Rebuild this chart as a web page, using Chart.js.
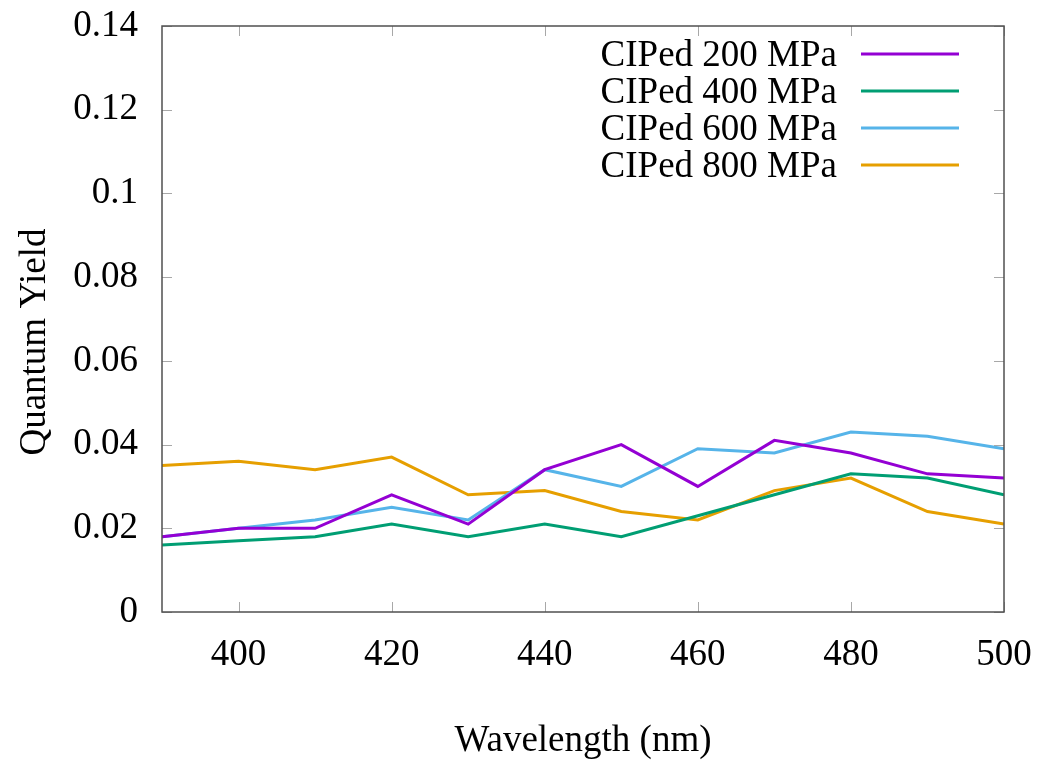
<!DOCTYPE html>
<html>
<head>
<meta charset="utf-8">
<title>Quantum Yield</title>
<script src="https://cdn.jsdelivr.net/npm/chart.js@4.4.0/dist/chart.umd.min.js"></script>
<style>
  html, body { margin: 0; background: #fff; }
  #wrap { width: 1038px; height: 763px; position: relative; }
</style>
</head>
<body>
<div id="wrap"><canvas id="qy"></canvas></div>
<script>
// wavelength grid (nm) and quantum yield per CIP pressure
const wavelengths = [390, 400, 410, 420, 430, 440, 450, 460, 470, 480, 490, 500];
const qy200 = [0.018, 0.020, 0.020, 0.028, 0.021, 0.034, 0.040, 0.030, 0.041, 0.038, 0.033, 0.032];
const qy400 = [0.016, 0.017, 0.018, 0.021, 0.018, 0.021, 0.018, 0.023, 0.028, 0.033, 0.032, 0.028];
const qy600 = [0.018, 0.020, 0.022, 0.025, 0.022, 0.034, 0.030, 0.039, 0.038, 0.043, 0.042, 0.039];
const qy800 = [0.035, 0.036, 0.034, 0.037, 0.028, 0.029, 0.024, 0.022, 0.029, 0.032, 0.024, 0.021];

const seriesLabels = ['CIPed 200 MPa', 'CIPed 400 MPa', 'CIPed 600 MPa', 'CIPed 800 MPa'];
const seriesColors = ['#9400d3', '#009e73', '#56b4e9', '#e69f00'];

const xTicks = [400, 420, 440, 460, 480, 500];
const yTicks = [0, 0.02, 0.04, 0.06, 0.08, 0.1, 0.12, 0.14];

const FONT = '"Liberation Serif", "Times New Roman", serif';
const FONT_SIZE = 37;

const toPoints = (ys) => ys.map((y, i) => ({ x: wavelengths[i], y }));

// frame with inward ticks on all four sides (gnuplot-like mirror ticks)
const framePlugin = {
  id: 'frame',
  afterDraw(chart) {
    const { ctx, chartArea: a, scales } = chart;
    const len = 10;
    ctx.save();
    ctx.strokeStyle = '#a8a8a8';
    ctx.lineWidth = 1;
    for (const v of xTicks) {
      const px = Math.round(scales.x.getPixelForValue(v)) + 0.5;
      ctx.beginPath();
      ctx.moveTo(px, a.bottom); ctx.lineTo(px, a.bottom - len);
      ctx.moveTo(px, a.top); ctx.lineTo(px, a.top + len);
      ctx.stroke();
    }
    for (const v of yTicks) {
      const py = Math.round(scales.y.getPixelForValue(v)) + 0.5;
      ctx.beginPath();
      ctx.moveTo(a.left, py); ctx.lineTo(a.left + len, py);
      ctx.moveTo(a.right, py); ctx.lineTo(a.right - len, py);
      ctx.stroke();
    }
    ctx.strokeStyle = '#505050';
    ctx.lineWidth = 1.5;
    ctx.strokeRect(a.left, a.top, a.right - a.left, a.bottom - a.top);
    ctx.restore();
  }
};

// axis titles
const titlePlugin = {
  id: 'axisTitles',
  afterDraw(chart) {
    const { ctx, chartArea: a } = chart;
    ctx.save();
    ctx.fillStyle = '#000';
    ctx.font = `${FONT_SIZE}px ${FONT}`;
    ctx.textAlign = 'center';
    ctx.textBaseline = 'middle';
    ctx.fillText('Wavelength (nm)', (a.left + a.right) / 2, 741);
    ctx.translate(35, 342);
    ctx.rotate(-Math.PI / 2);
    ctx.fillText('Quantum Yield', 0, 0);
    ctx.restore();
  }
};

// key in the top right: label first, line sample after it
const keyPlugin = {
  id: 'key',
  afterDraw(chart) {
    const { ctx } = chart;
    ctx.save();
    ctx.font = `${FONT_SIZE}px ${FONT}`;
    ctx.textAlign = 'right';
    ctx.textBaseline = 'middle';
    chart.data.datasets.forEach((ds, i) => {
      const y = 54 + 37 * i;
      ctx.fillStyle = '#000';
      ctx.fillText(ds.label, 837, y + 2);
      ctx.strokeStyle = ds.borderColor;
      ctx.lineWidth = 3;
      ctx.beginPath();
      ctx.moveTo(861, y); ctx.lineTo(959, y);
      ctx.stroke();
    });
    ctx.restore();
  }
};

const seriesValues = [qy200, qy400, qy600, qy800];

new Chart(document.getElementById('qy'), {
  type: 'line',
  data: {
    datasets: seriesValues.map((ys, i) => ({
      label: seriesLabels[i],
      data: toPoints(ys),
      borderColor: seriesColors[i],
      backgroundColor: seriesColors[i],
      borderWidth: 3,
      pointRadius: 0,
      tension: 0,
      fill: false
    }))
  },
  options: {
    responsive: true,
    maintainAspectRatio: false,
    animation: false,
    layout: { padding: { left: 0, top: 26, right: 34, bottom: 0 } },
    plugins: {
      legend: { display: false },
      tooltip: { enabled: false }
    },
    scales: {
      x: {
        type: 'linear',
        min: 390,
        max: 500,
        grid: { display: false, drawTicks: false },
        border: { display: false },
        ticks: {
          color: '#000',
          padding: 21,
          maxRotation: 0,
          font: { family: FONT, size: FONT_SIZE },
          callback: (v) => String(v)
        },
        afterBuildTicks: (s) => { s.ticks = xTicks.map(v => ({ value: v })); },
        afterFit: (s) => { s.height = 151; s.paddingLeft = 0; s.paddingRight = 0; }
      },
      y: {
        min: 0,
        max: 0.14,
        grid: { display: false, drawTicks: false },
        border: { display: false },
        ticks: {
          color: '#000',
          padding: 24,
          font: { family: FONT, size: FONT_SIZE },
          callback: (v) => String(Number(v.toFixed(2)))
        },
        afterBuildTicks: (s) => { s.ticks = yTicks.map(v => ({ value: v })); },
        afterFit: (s) => { s.width = 162; s.paddingTop = 0; s.paddingBottom = 0; }
      }
    }
  },
  plugins: [framePlugin, titlePlugin, keyPlugin]
});
</script>
</body>
</html>
